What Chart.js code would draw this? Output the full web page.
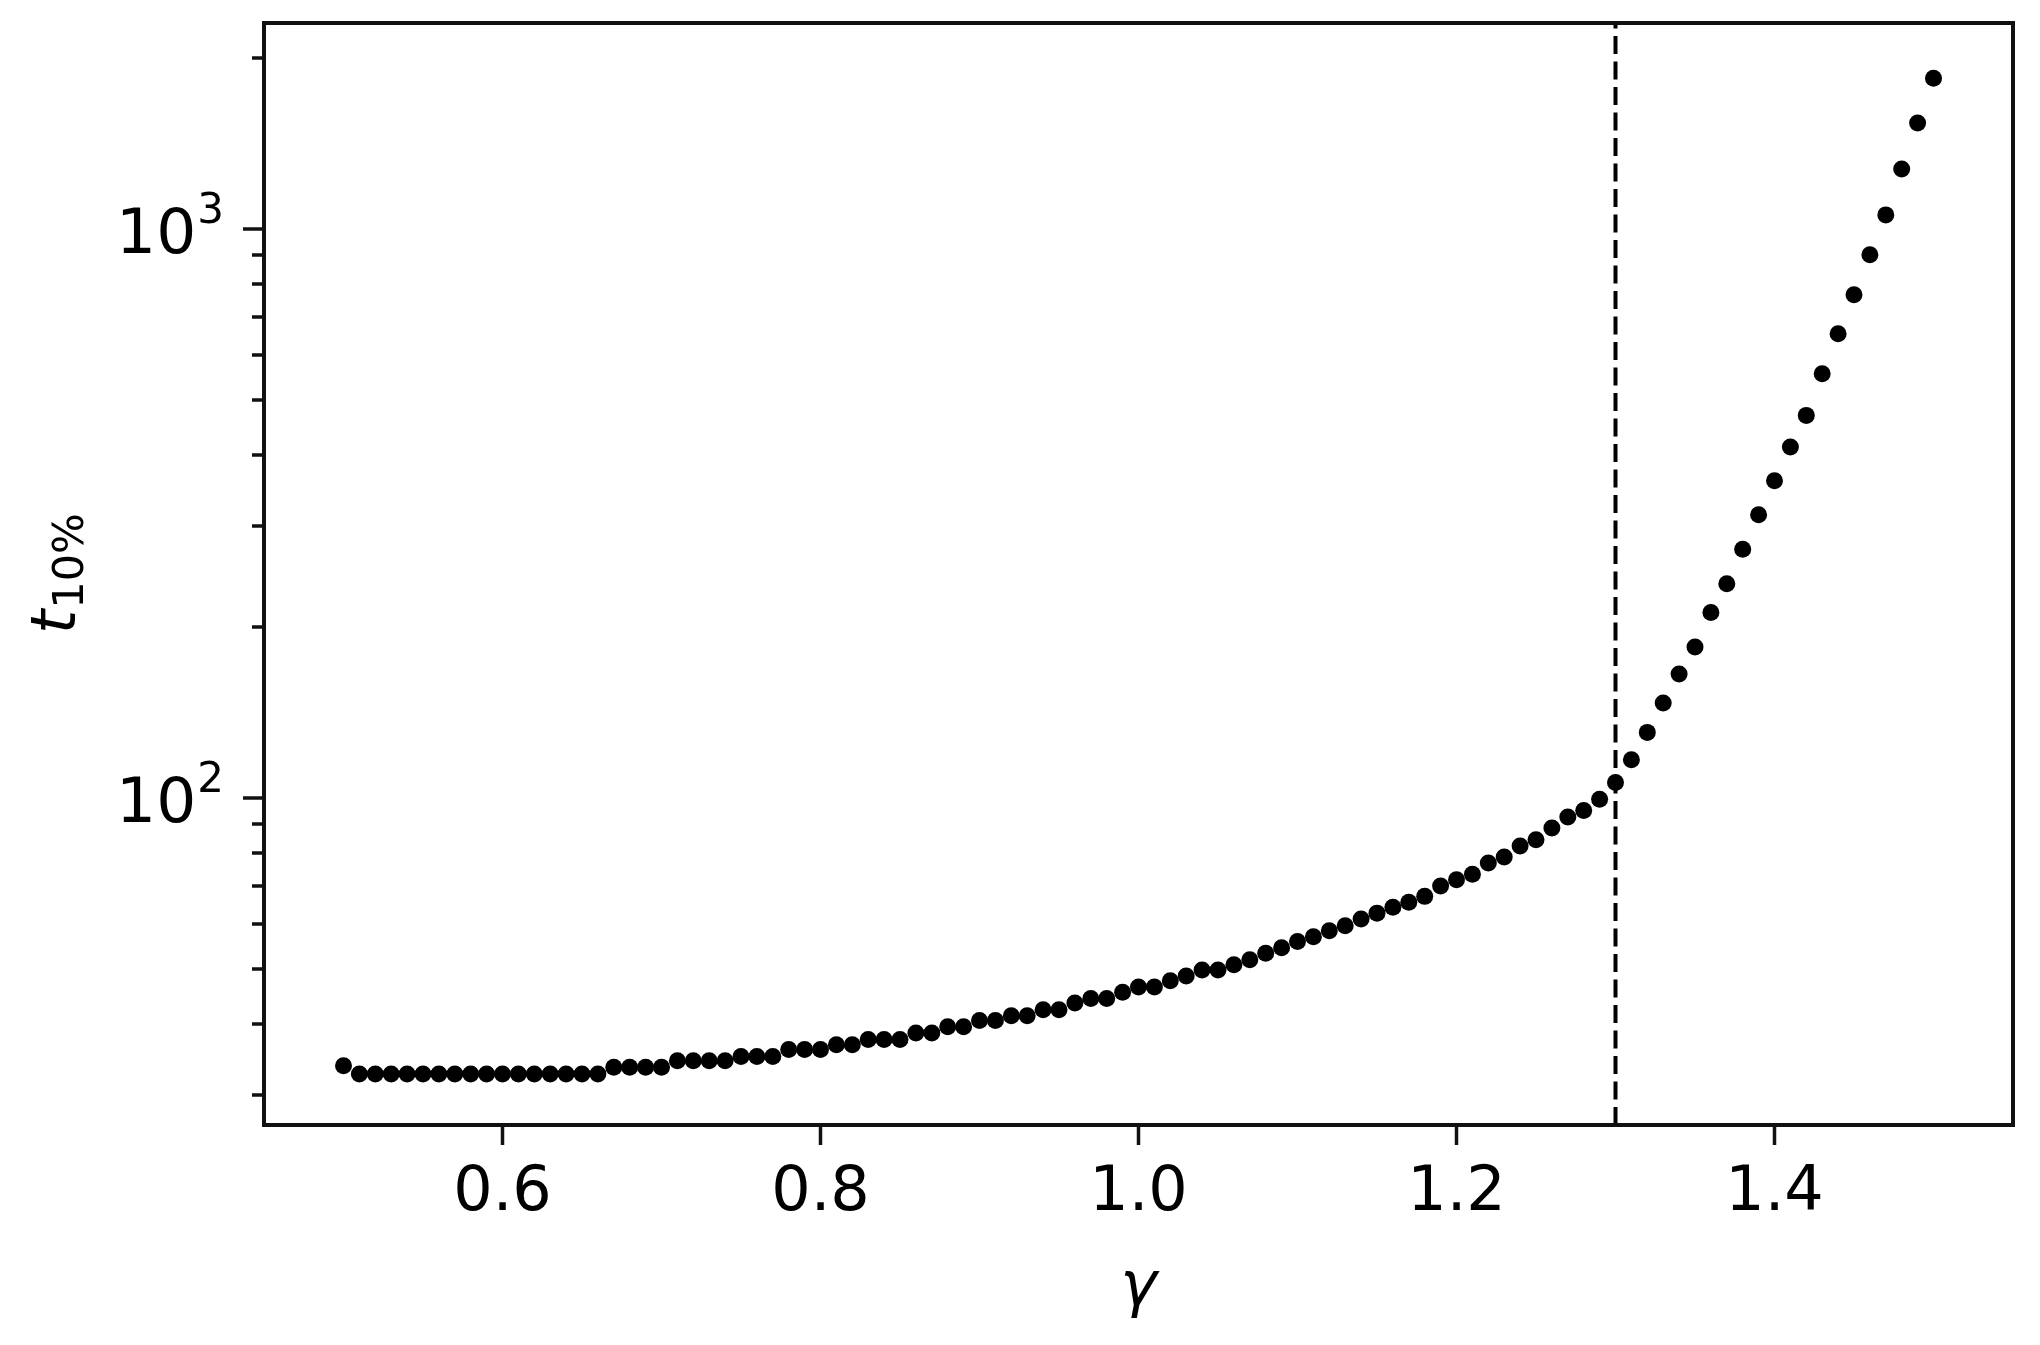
<!DOCTYPE html>
<html><head><meta charset="utf-8">
<script src="https://cdn.jsdelivr.net/npm/chart.js@4.4.1/dist/chart.umd.min.js"></script>
<style>html,body{margin:0;padding:0;background:#fff;}canvas{display:block;}</style>
</head><body>
<canvas id="c" width="2040" height="1345"></canvas>
<script>
const gammaValues = [
  0.50,0.51,0.52,0.53,0.54,0.55,0.56,0.57,0.58,0.59,
  0.60,0.61,0.62,0.63,0.64,0.65,0.66,0.67,0.68,0.69,
  0.70,0.71,0.72,0.73,0.74,0.75,0.76,0.77,0.78,0.79,
  0.80,0.81,0.82,0.83,0.84,0.85,0.86,0.87,0.88,0.89,
  0.90,0.91,0.92,0.93,0.94,0.95,0.96,0.97,0.98,0.99,
  1.00,1.01,1.02,1.03,1.04,1.05,1.06,1.07,1.08,1.09,
  1.10,1.11,1.12,1.13,1.14,1.15,1.16,1.17,1.18,1.19,
  1.20,1.21,1.22,1.23,1.24,1.25,1.26,1.27,1.28,1.29,
  1.30,1.31,1.32,1.33,1.34,1.35,1.36,1.37,1.38,1.39,
  1.40,1.41,1.42,1.43,1.44,1.45,1.46,1.47,1.48,1.49,
  1.50
];
const t10Values = [
  33.8,32.7,32.7,32.7,32.7,32.7,32.7,32.7,32.7,32.7,
  32.7,32.7,32.7,32.7,32.7,32.7,32.7,33.6,33.6,33.6,
  33.6,34.5,34.5,34.5,34.5,35.1,35.1,35.1,36.1,36.1,
  36.1,36.8,36.8,37.6,37.6,37.6,38.6,38.6,39.6,39.6,
  40.6,40.6,41.4,41.4,42.4,42.4,43.6,44.4,44.4,45.5,
  46.5,46.5,47.7,48.6,49.8,49.8,50.9,51.9,53.3,54.5,
  55.9,57.0,58.4,59.6,61.2,62.7,64.2,65.5,67.1,70.0,
  71.8,73.4,76.8,78.7,82.3,84.4,88.5,92.5,95.0,99.4,
  106.4,116.6,130.3,146.7,165.0,184.0,211.7,237.7,273.5,314.4,
  360.7,413.4,470,556,654,766,900,1058,1274,1534,
  1840
];
const thresholdGamma = 1.3;
const xRange = [0.45, 1.55];
const yRange = [26.6, 2300];
const xTickValues = [0.6, 0.8, 1.0, 1.2, 1.4];
const xTickLabels = ['0.6', '0.8', '1.0', '1.2', '1.4'];
const yMajorTicks = [100, 1000];
const yMajorBase = ['10', '10'];
const yMajorExp = ['2', '3'];
const yMinorTicks = [30,40,50,60,70,80,90,200,300,400,500,600,700,800,900,2000];
const xTitle = 'γ';
const yTitleMain = 't';
const yTitleSub = '10%';

const points = gammaValues.map((g, i) => ({x: g, y: t10Values[i]}));
const vline = [{x: thresholdGamma, y: yRange[0]}, {x: thresholdGamma, y: yRange[1]}];

const decor = {
  id: 'decor',
  afterDraw(chart) {
    const {ctx, chartArea: a, scales: {x, y}} = chart;
    ctx.save();
    ctx.strokeStyle = '#111';
    ctx.lineWidth = 4;
    ctx.strokeRect(a.left, a.top, a.right - a.left, a.bottom - a.top);
    // y tick marks
    ctx.lineWidth = 3.5;
    ctx.beginPath();
    yMinorTicks.forEach(v => { const p = Math.round(y.getPixelForValue(v)); ctx.moveTo(a.left, p); ctx.lineTo(a.left - 12, p); });
    yMajorTicks.forEach(v => { const p = Math.round(y.getPixelForValue(v)); ctx.moveTo(a.left, p); ctx.lineTo(a.left - 21, p); });
    ctx.stroke();
    // y tick labels with superscripts
    ctx.fillStyle = '#000';
    ctx.textAlign = 'right';
    ctx.textBaseline = 'alphabetic';
    yMajorTicks.forEach((v, i) => {
      const p = y.getPixelForValue(v);
      const R = a.left - 40;
      ctx.font = '42px "DejaVu Sans"';
      const sw = ctx.measureText(yMajorExp[i]).width;
      ctx.fillText(yMajorExp[i], R, p - 6);
      ctx.font = '63px "DejaVu Sans"';
      ctx.fillText(yMajorBase[i], R - sw - 1, p + 24);
    });
    // x title
    ctx.textAlign = 'center';
    ctx.font = 'italic 62px "DejaVu Sans"';
    ctx.fillText(xTitle, (a.left + a.right) / 2, a.bottom + 180);
    // y title rotated
    ctx.save();
    ctx.translate(75, (a.top + a.bottom) / 2);
    ctx.rotate(-Math.PI / 2);
    ctx.textAlign = 'left';
    ctx.font = 'italic 62px "DejaVu Sans"';
    const wt = ctx.measureText(yTitleMain).width;
    ctx.font = '43px "DejaVu Sans"';
    const ws = ctx.measureText(yTitleSub).width;
    const x0 = -(wt + ws) / 2;
    ctx.font = 'italic 62px "DejaVu Sans"';
    ctx.fillText(yTitleMain, x0, 0);
    ctx.font = '43px "DejaVu Sans"';
    ctx.fillText(yTitleSub, x0 + wt + 1, 8);
    ctx.restore();
    ctx.restore();
  }
};

new Chart(document.getElementById('c'), {
  type: 'scatter',
  data: {
    datasets: [
      {data: points, pointRadius: 8.5, pointHoverRadius: 8.5, pointBackgroundColor: '#000', pointBorderWidth: 0, showLine: false},
      {data: vline, showLine: true, pointRadius: 0, borderColor: '#000', borderWidth: 4, borderDash: [18, 7.5], fill: false}
    ]
  },
  options: {
    responsive: false,
    animation: false,
    devicePixelRatio: 1,
    layout: {padding: {left: 0, top: 23, right: 27, bottom: 0}},
    plugins: {legend: {display: false}, tooltip: {enabled: false}},
    scales: {
      x: {
        type: 'linear',
        min: xRange[0], max: xRange[1],
        afterBuildTicks: s => { s.ticks = xTickValues.map(v => ({value: v})); },
        afterFit: s => { s.height = 220; },
        grid: {display: true, drawOnChartArea: false, drawTicks: true, tickLength: 20, tickWidth: 3.5, tickColor: '#111'},
        border: {display: false},
        ticks: {
          font: {family: 'DejaVu Sans', size: 62},
          color: '#000',
          padding: 12,
          maxRotation: 0,
          autoSkip: false,
          callback: v => { const i = xTickValues.findIndex(t => Math.abs(t - v) < 1e-9); return i >= 0 ? xTickLabels[i] : ''; }
        }
      },
      y: {
        type: 'logarithmic',
        min: yRange[0], max: yRange[1],
        afterBuildTicks: s => { s.ticks = yMajorTicks.concat(yMinorTicks).map(v => ({value: v})); },
        afterFit: s => { s.width = 264; },
        grid: {display: false},
        border: {display: false},
        ticks: {display: false}
      }
    }
  },
  plugins: [decor]
});
</script>
</body></html>
